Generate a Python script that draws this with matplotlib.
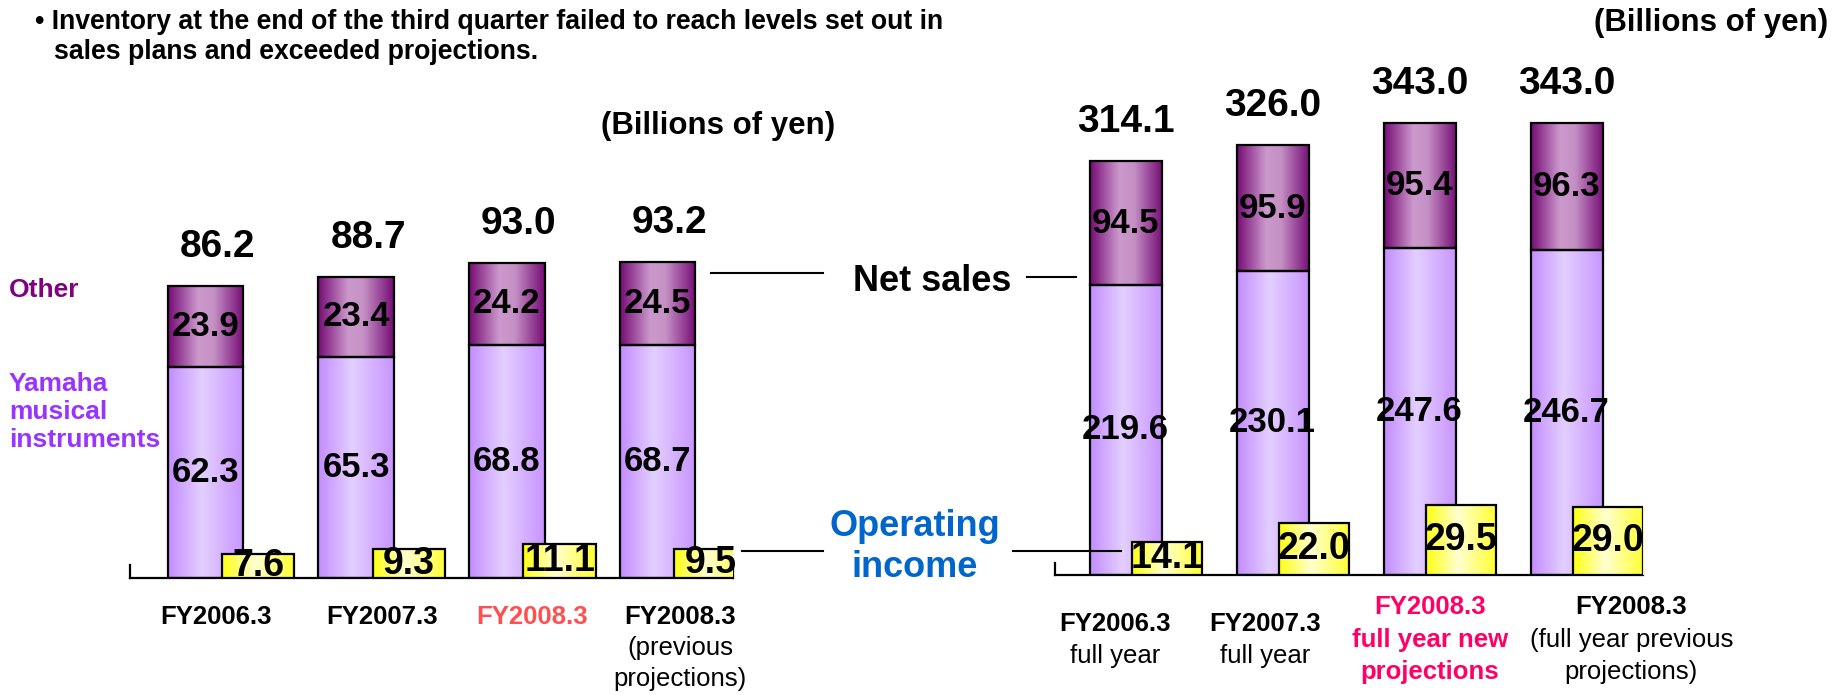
import numpy as np
import matplotlib
matplotlib.use('Agg')
import matplotlib.pyplot as plt
from matplotlib.colors import LinearSegmentedColormap
from matplotlib.lines import Line2D
from matplotlib.transforms import blended_transform_factory

plt.rcParams['font.family'] = ['Liberation Sans', 'DejaVu Sans']

# Q3 (left) and full year (right), billions of yen
left_other = [23.9, 23.4, 24.2, 24.5]
left_ymh = [62.3, 65.3, 68.8, 68.7]
left_total = [86.2, 88.7, 93.0, 93.2]
left_opinc = [7.6, 9.3, 11.1, 9.5]
left_labels = [['FY2006.3'], ['FY2007.3'], ['FY2008.3'],
               ['FY2008.3', '(previous', 'projections)']]

right_other = [94.5, 95.9, 95.4, 96.3]
right_ymh = [219.6, 230.1, 247.6, 246.7]
right_total = [314.1, 326.0, 343.0, 343.0]
right_opinc = [14.1, 22.0, 29.5, 29.0]
right_labels = [['FY2006.3', 'full year'], ['FY2007.3', 'full year'],
                ['FY2008.3', 'full year new', 'projections'],
                ['FY2008.3', '(full year previous', 'projections)']]

W, H = 1835, 695
fig = plt.figure(figsize=(W / 100, H / 100), dpi=100)

# bar shading (horizontal gradients)
cm_ymh = LinearSegmentedColormap.from_list('ymh', [(0, '#c48cff'), (0.45, '#e3cfff'), (1, '#c894ff')])
cm_other = LinearSegmentedColormap.from_list('oth', [(0, '#760c76'), (0.4, '#cc99cc'), (0.6, '#c591c5'), (1, '#760c76')])
cm_yel = LinearSegmentedColormap.from_list('yel', [(0, '#ffff10'), (0.45, '#ffffd0'), (1, '#ffff30')])


def shade(ax, bars, cmap):
    grad = np.linspace(0, 1, 256).reshape(1, -1)
    for b in bars:
        x0, y0 = b.get_x(), b.get_y()
        ax.imshow(grad, cmap=cmap, aspect='auto', interpolation='bicubic',
                  extent=[x0, x0 + b.get_width(), y0, y0 + b.get_height()],
                  zorder=b.get_zorder() - 0.5)
        b.set_facecolor('none')


def px(x, y):
    return x / W, 1 - y / H


def panel(rect, other, ymh, total, opinc, ylim, ylim2, bw, yoff, yw, top_dx, tick_h, right_tick):
    ax = fig.add_axes(rect)
    x = np.arange(len(total))
    b1 = ax.bar(x, ymh, bw, edgecolor='black', linewidth=1.6, zorder=2)
    b2 = ax.bar(x, other, bw, bottom=ymh, edgecolor='black', linewidth=1.6, zorder=2)
    shade(ax, b1, cm_ymh)
    shade(ax, b2, cm_other)
    for i in x:
        ax.text(i, ymh[i] / 2, f'{ymh[i]:.1f}', ha='center', va='center',
                fontsize=25, fontweight='bold', zorder=3)
        ax.text(i, ymh[i] + other[i] / 2, f'{other[i]:.1f}', ha='center', va='center',
                fontsize=25, fontweight='bold', zorder=3)
        ax.annotate(f'{total[i]:.1f}', (i + top_dx, total[i]), xytext=(0, 28),
                    textcoords='offset points', ha='center', va='center',
                    fontsize=28, fontweight='bold')
    ax2 = ax.twinx()
    xc = x - bw / 2 + yoff + yw / 2
    b3 = ax2.bar(xc, opinc, yw, edgecolor='black', linewidth=1.6, zorder=2)
    shade(ax2, b3, cm_yel)
    for i in x:
        ax2.text(xc[i], opinc[i] / 2, f'{opinc[i]:.1f}', ha='center', va='center',
                 fontsize=27, fontweight='bold', zorder=3)
    for a in (ax, ax2):
        a.set_xlim(-0.5 + (0.02 if bw < 0.5 else 0), 3.5 + (0.02 if bw < 0.5 else 0))
        a.set_xticks([])
        a.set_yticks([])
        for s in a.spines.values():
            s.set_visible(False)
    ax.set_ylim(*ylim)
    ax2.set_ylim(*ylim2)
    ax.spines['bottom'].set_visible(True)
    ax.spines['bottom'].set_linewidth(1.6)
    ax.spines['left'].set_visible(True)
    ax.spines['left'].set_linewidth(1.6)
    ax.spines['left'].set_bounds(0, tick_h)
    if right_tick:
        ax.spines['right'].set_visible(True)
        ax.spines['right'].set_linewidth(1.6)
        ax.spines['right'].set_bounds(0, tick_h)
    return ax


axL = panel([130 / W, 117 / H, 603 / W, 339 / H], left_other, left_ymh, left_total, left_opinc,
            (0, 100), (0, 109.4), 0.5, 0.36, 0.48, 0.08, 3.8, True)
axR = panel([1055 / W, 120.5 / H, 588 / W, 461 / H], right_other, right_ymh, right_total, right_opinc,
            (0, 350), (0, 197), 0.49, 0.286, 0.48, 0.0, 8.5, False)

# category labels
trL = blended_transform_factory(axL.transData, fig.transFigure)
left_dx = [0.07, 0.17, 0.17, 0.15]
for i, lines in enumerate(left_labels):
    for k, t in enumerate(lines):
        hi = (i == 2)
        axL.text(i + left_dx[i], 1 - (617 + k * 31) / H, t, transform=trL, ha='center', va='center',
                 fontsize=18.5, fontweight='bold' if k == 0 else 'normal',
                 color='#ff5050' if hi else 'black')

trR = blended_transform_factory(axR.transData, fig.transFigure)
right_dx = [-0.07, -0.05, 0.07, 0.44]
for i, lines in enumerate(right_labels):
    n = len(lines)
    for k, t in enumerate(lines):
        hi = (i == 2)
        axR.text(i + right_dx[i], 1 - (640 + (k - (n - 1) / 2) * 32.5) / H, t, transform=trR,
                 ha='center', va='center', fontsize=18.5,
                 fontweight='bold' if (k == 0 or hi) else 'normal',
                 color='#ff0066' if hi else 'black')

# headline and units
fig.text(*px(35, 22), '\u2022 Inventory at the end of the third quarter failed to reach levels set out in',
         fontsize=19.2, fontweight='bold', va='center', ha='left')
fig.text(*px(54, 52), 'sales plans and exceeded projections.',
         fontsize=19.2, fontweight='bold', va='center', ha='left')
fig.text(*px(718, 126), '(Billions of yen)', fontsize=22.5, fontweight='bold', ha='center', va='center')
fig.text(*px(1828, 23), '(Billions of yen)', fontsize=22.5, fontweight='bold', ha='right', va='center')

# legend-like labels
fig.text(*px(9, 290), 'Other', fontsize=19, fontweight='bold', color='#800080', va='center')
fig.text(*px(9, 412), 'Yamaha\nmusical\ninstruments', fontsize=19, fontweight='bold',
         color='#9933ff', va='center', linespacing=1.2)
fig.text(*px(932, 281), 'Net sales', fontsize=26, fontweight='bold', ha='center', va='center')
fig.text(*px(915, 547), 'Operating\nincome', fontsize=26, fontweight='bold', ha='center',
         va='center', color='#0066cc', linespacing=1.25)

for (x0, x1, y) in [(711, 823, 273), (1027, 1076, 277), (742, 823, 551), (1013, 1121, 551)]:
    fig.add_artist(Line2D([x0 / W, x1 / W], [1 - y / H, 1 - y / H], transform=fig.transFigure,
                          color='black', linewidth=1.5, zorder=5))

fig.savefig('out.png', dpi=100)
